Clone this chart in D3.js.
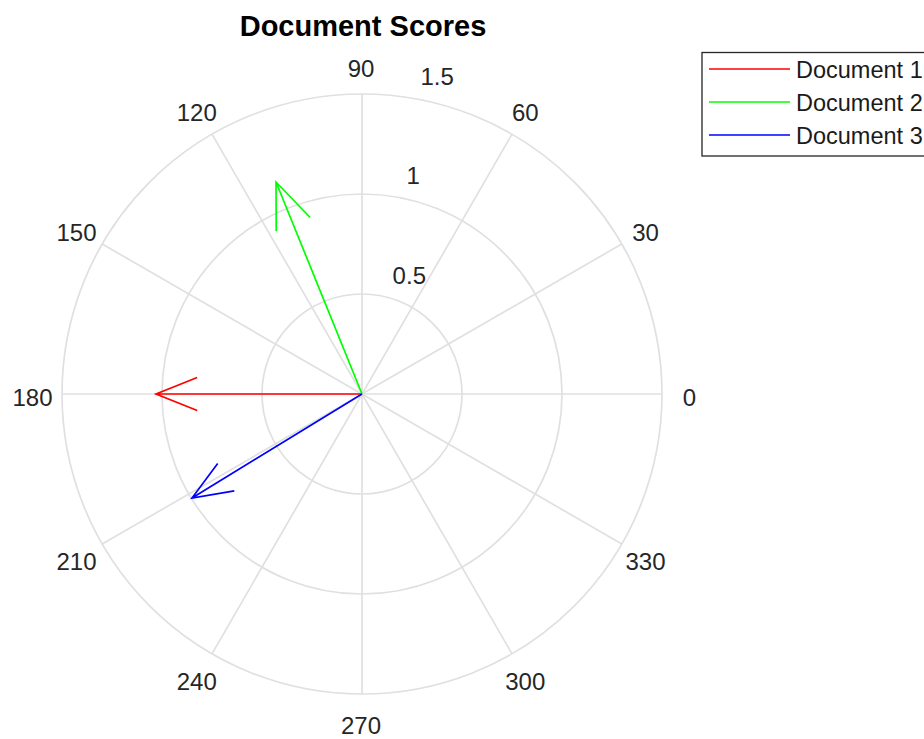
<!DOCTYPE html>
<html>
<head>
<meta charset="utf-8">
<script src="https://cdn.jsdelivr.net/npm/d3@7"></script>
<style>
  html, body { margin: 0; padding: 0; background: #fff; }
  svg { display: block; font-family: "Liberation Sans", Arial, sans-serif; }
</style>
</head>
<body>
<svg id="chart" width="924" height="739"></svg>
<script>
// ---- data ----
const documents = ["Document 1", "Document 2", "Document 3"];
const uValues = [-1.03, -0.43, -0.85];   // x components
const vValues = [0.0, 1.06, -0.52];      // y components
const seriesColors = ["#ff0000", "#00ff00", "#0000ff"];
const angleTicks = [0, 30, 60, 90, 120, 150, 180, 210, 240, 270, 300, 330];
const radiusTicks = [0.5, 1, 1.5];
const titleText = "Document Scores";

// ---- layout ----
const cx = 362, cy = 394, R = 300;
const svg = d3.select("#chart");
const rScale = d3.scaleLinear().domain([0, 1.5]).range([0, R]);
const xs = d3.scaleLinear().domain([-1.5, 1.5]).range([cx - R, cx + R]);
const ys = d3.scaleLinear().domain([-1.5, 1.5]).range([cy + R, cy - R]);

const gridColor = "#e0e0e0";
const g = svg.append("g");

// rings
g.selectAll("circle.ring").data(radiusTicks).join("circle")
  .attr("class", "ring")
  .attr("cx", cx).attr("cy", cy)
  .attr("r", d => rScale(d))
  .attr("fill", "none").attr("stroke", gridColor).attr("stroke-width", 1.7);

// spokes
const spokeAngles = angleTicks.filter(a => a < 180);
g.selectAll("line.spoke").data(spokeAngles).join("line")
  .attr("class", "spoke")
  .attr("x1", a => xs(1.5 * Math.cos(a * Math.PI / 180)))
  .attr("y1", a => ys(1.5 * Math.sin(a * Math.PI / 180)))
  .attr("x2", a => xs(-1.5 * Math.cos(a * Math.PI / 180)))
  .attr("y2", a => ys(-1.5 * Math.sin(a * Math.PI / 180)))
  .attr("stroke", gridColor).attr("stroke-width", 1.7);

// angle labels
g.selectAll("text.ang").data(angleTicks).join("text")
  .attr("class", "ang")
  .attr("x", a => xs(1.095 * 1.5 * Math.cos(a * Math.PI / 180)) - 1)
  .attr("y", a => ys(1.095 * 1.5 * Math.sin(a * Math.PI / 180)) + 3)
  .attr("text-anchor", "middle")
  .attr("dominant-baseline", "central")
  .attr("font-size", 24)
  .attr("fill", "#262626")
  .text(a => a);

// radius labels (at 82 degrees)
const c82 = Math.cos(82 * Math.PI / 180), s82 = Math.sin(82 * Math.PI / 180);
g.selectAll("text.rad").data(radiusTicks).join("text")
  .attr("class", "rad")
  .attr("x", r => xs((r + 0.025) * c82) + 16)
  .attr("y", r => ys((r + 0.025) * s82) - 15)
  .attr("dominant-baseline", "central")
  .attr("font-size", 24)
  .attr("fill", "#262626")
  .text(r => r);

// arrows (compass style)
const headX = [0, 1, 0.8, 1, 0.8];
const headY = [0, 0, 0.08, 0, -0.08];
const line = d3.line().x(p => xs(p[0])).y(p => ys(p[1]));
documents.forEach((name, i) => {
  const u = uValues[i], v = vValues[i];
  const pts = headX.map((hx, k) => {
    const hy = headY[k];
    return [hx * u - hy * v, hx * v + hy * u];
  });
  g.append("path")
    .attr("d", line(pts))
    .attr("fill", "none")
    .attr("stroke", seriesColors[i])
    .attr("stroke-width", 1.7)
    .attr("stroke-linejoin", "miter");
});

// title
svg.append("text")
  .attr("x", cx + 1).attr("y", 36)
  .attr("text-anchor", "middle")
  .attr("font-size", 29)
  .attr("font-weight", "bold")
  .attr("fill", "#000")
  .text(titleText);

// legend
const lg = svg.append("g");
lg.append("rect")
  .attr("x", 702).attr("y", 52.5)
  .attr("width", 240).attr("height", 103.5)
  .attr("fill", "#fff").attr("stroke", "#262626").attr("stroke-width", 1.3);
documents.forEach((name, i) => {
  const y = 69 + i * 33;
  lg.append("line")
    .attr("x1", 709).attr("x2", 790)
    .attr("y1", y).attr("y2", y)
    .attr("stroke", seriesColors[i]).attr("stroke-width", 1.7);
  lg.append("text")
    .attr("x", 796).attr("y", y + 1)
    .attr("dominant-baseline", "central")
    .attr("font-size", 23.5)
    .attr("fill", "#1a1a1a")
    .text(name);
});
</script>
</body>
</html>
